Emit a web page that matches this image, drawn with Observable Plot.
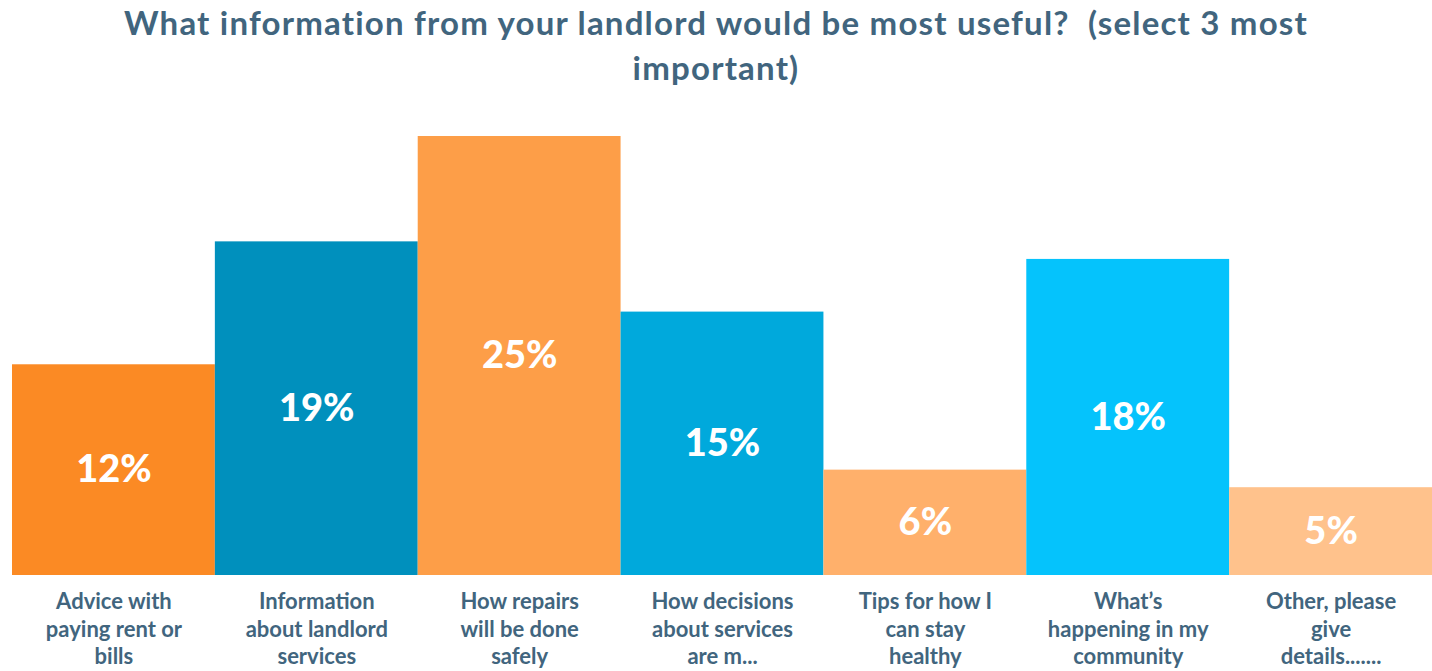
<!DOCTYPE html>
<html>
<head>
<meta charset="utf-8">
<script src="https://cdn.jsdelivr.net/npm/d3@7"></script>
<script src="https://cdn.jsdelivr.net/npm/@observablehq/plot@0.6"></script>
<style>
  html, body { margin: 0; padding: 0; background: #fff; }
  body { width: 1432px; height: 671px; overflow: hidden; font-family: Lato, "Open Sans", sans-serif; }
  #title { height: 105px; box-sizing: border-box; padding: 0; text-align: center; color: #41657e;
           font-weight: 700; font-size: 33px; line-height: 45px; letter-spacing: 1.2px; white-space: nowrap; }
  #chart svg { display: block; }
</style>
</head>
<body>
<div id="title">What information from your landlord would be most useful?&nbsp; (select 3 most<br>important)</div>
<div id="chart"></div>
<script>
const categories = [
  "Advice with paying rent or bills",
  "Information about landlord services",
  "How repairs will be done safely",
  "How decisions about services are m...",
  "Tips for how I can stay healthy",
  "What’s happening in my community",
  "Other, please give details......."
];
const tickLabels = [
  "Advice with\npaying rent or\nbills",
  "Information\nabout landlord\nservices",
  "How repairs\nwill be done\nsafely",
  "How decisions\nabout services\nare m...",
  "Tips for how I\ncan stay\nhealthy",
  "What’s\nhappening in my\ncommunity",
  "Other, please\ngive\ndetails......."
];
const values = [12, 19, 25, 15, 6, 18, 5];
const colors = ["#fb8a24", "#0090bd", "#fd9e48", "#00a9dc", "#ffb06b", "#05c3fc", "#ffc28c"];

const data = categories.map((c, i) => ({cat: c, value: values[i], color: colors[i], tick: tickLabels[i]}));
const tickMap = new Map(data.map(d => [d.cat, d.tick]));

const chart = Plot.plot({
  width: 1432,
  height: 566,
  marginTop: 31,
  marginBottom: 96,
  marginLeft: 12,
  marginRight: 0,
  style: {fontFamily: "Lato, 'Open Sans', sans-serif", background: "#fff"},
  x: {domain: categories, padding: 0, round: false, axis: null},
  y: {domain: [0, 25], axis: null},
  marks: [
    Plot.barY(data, {x: "cat", y: "value", fill: "color", inset: 0}),
    Plot.text(data, {x: "cat", y: d => d.value / 2, text: d => `${d.value}%`, fill: "white",
                     fontSize: 38, fontWeight: 900}),
    Plot.axisX({tickSize: 0, tickPadding: 14, tickFormat: d => tickMap.get(d), fontSize: 22, label: null,
                fontWeight: "bold", fill: "#41657e", lineHeight: 1.25, textOverflow: null})
  ]
});
document.getElementById("chart").appendChild(chart);
</script>
</body>
</html>
